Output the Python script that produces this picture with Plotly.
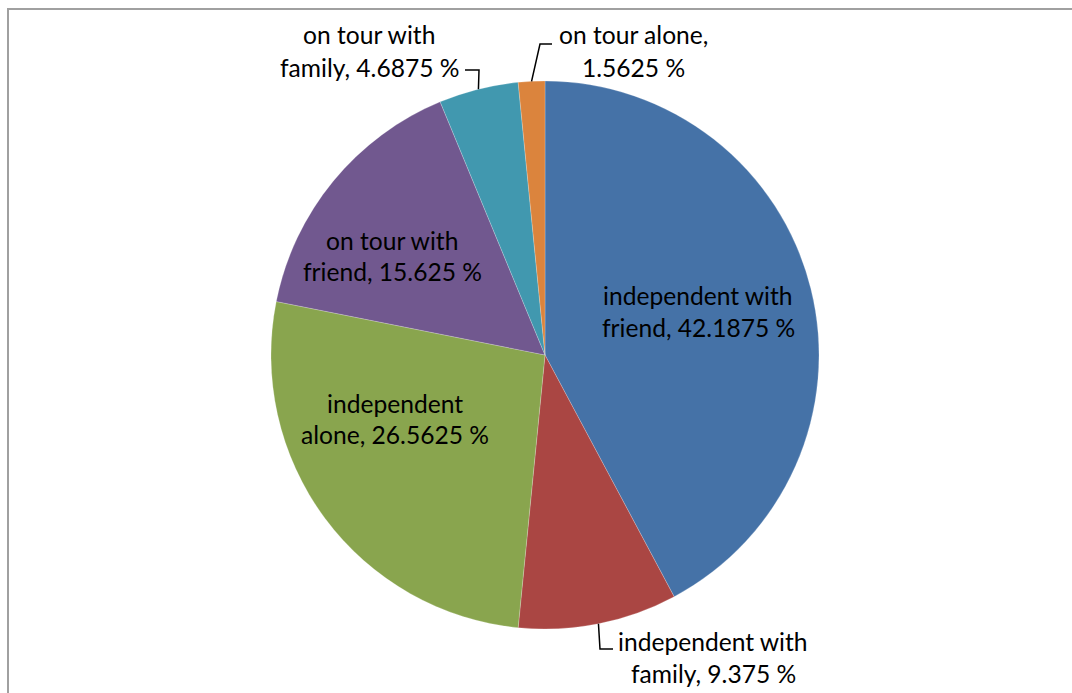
import math
import plotly.graph_objects as go

# Travel arrangement shares (percent of respondents)
categories = [
    "independent with friend",
    "independent with family",
    "independent alone",
    "on tour with friend",
    "on tour with family",
    "on tour alone",
]
shares = [42.1875, 9.375, 26.5625, 15.625, 4.6875, 1.5625]
colors = ["#4572A7", "#AA4643", "#89A54E", "#71588F", "#4198AF", "#DB843D"]

# Label layout: words kept on the first line, label centre (px), leader line
# elbow/end points (px) or None for labels placed inside the slice.
first_line_words = [2, 2, 1, 3, 3, 3]
label_centres = [(698, 311), (713, 657), (395, 419), (392, 256), (369, 51), (633, 51)]
leader_paths = [
    None,
    [(600, 649), (613, 649)],
    None,
    None,
    [(479, 70), (465, 70)],
    [(540, 44), (552, 44)],
]

W, H = 1072, 693
CX, CY, R = 545, 355, 274
FONT = "Lato"
FSIZE = 24.6
LINE_GAP = 32


def px(x):
    return x / W


def py(y):
    return (H - y) / H


fig = go.Figure(
    go.Pie(
        labels=categories,
        values=shares,
        sort=False,
        direction="clockwise",
        rotation=0,
        marker=dict(colors=colors, line=dict(color="rgba(255,255,255,0.3)", width=0.7)),
        textinfo="none",
        hoverinfo="label+percent",
        showlegend=False,
        domain=dict(x=[px(CX - R), px(CX + R)], y=[py(CY + R), py(CY - R)]),
    )
)

annotations = []
shapes = []
total = sum(shares)
cum = 0.0
for name, val, nwords, (lx, ly), path in zip(
    categories, shares, first_line_words, label_centres, leader_paths
):
    words = f"{name}, {val:g} %".split(" ")
    line1 = " ".join(words[:nwords])
    line2 = " ".join(words[nwords:])
    for txt, yy in ((line1, ly - LINE_GAP / 2), (line2, ly + LINE_GAP / 2)):
        annotations.append(
            dict(
                x=px(lx), y=py(yy), xref="paper", yref="paper",
                text=txt, showarrow=False,
                xanchor="center", yanchor="middle",
                font=dict(family=FONT, size=FSIZE, color="#000000"),
            )
        )
    mid = (cum + val / 2) / total * 2 * math.pi
    cum += val
    if path:
        pts = [(CX + R * math.sin(mid), CY - R * math.cos(mid))] + path
        d = "M " + " L ".join(f"{px(x):.5f},{py(y):.5f}" for x, y in pts)
        shapes.append(
            dict(type="path", path=d, xref="paper", yref="paper",
                 line=dict(color="#000000", width=1.5))
        )

# chart-area frame
shapes.append(
    dict(type="rect", xref="paper", yref="paper",
         x0=px(8), y0=-0.05, x1=1.05, y1=py(9),
         line=dict(color="#a0a0a0", width=2), fillcolor="rgba(0,0,0,0)")
)

fig.update_layout(
    width=W, height=H,
    margin=dict(l=0, r=0, t=0, b=0),
    paper_bgcolor="#ffffff",
    plot_bgcolor="#ffffff",
    annotations=annotations,
    shapes=shapes,
)

fig.write_html("out.html")
